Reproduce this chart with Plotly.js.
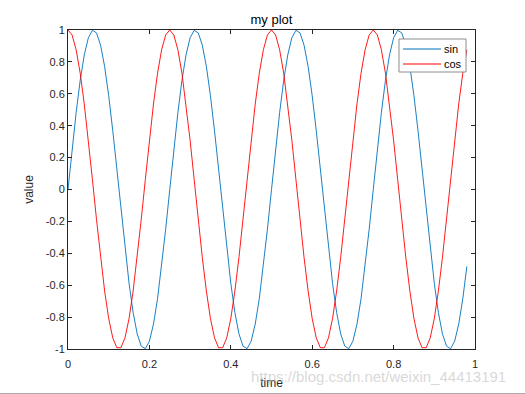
<!DOCTYPE html>
<html>
<head>
<meta charset="utf-8">
<script src="https://cdn.plot.ly/plotly-3.0.1.min.js"></script>
<style>html,body{margin:0;padding:0;background:#fff;}#chart{width:525px;height:394px;}</style>
</head>
<body>
<div id="chart"></div>
<script>
var time = [0,0.01,0.02,0.03,0.04,0.05,0.06,0.07,0.08,0.09,0.10,0.11,0.12,0.13,0.14,0.15,0.16,0.17,0.18,0.19,0.20,0.21,0.22,0.23,0.24,
0.25,0.26,0.27,0.28,0.29,0.30,0.31,0.32,0.33,0.34,0.35,0.36,0.37,0.38,0.39,0.40,0.41,0.42,0.43,0.44,0.45,0.46,0.47,0.48,0.49,
0.50,0.51,0.52,0.53,0.54,0.55,0.56,0.57,0.58,0.59,0.60,0.61,0.62,0.63,0.64,0.65,0.66,0.67,0.68,0.69,0.70,0.71,0.72,0.73,0.74,
0.75,0.76,0.77,0.78,0.79,0.80,0.81,0.82,0.83,0.84,0.85,0.86,0.87,0.88,0.89,0.90,0.91,0.92,0.93,0.94,0.95,0.96,0.97,0.98];

var sinValues = [0,0.249,0.482,0.685,0.844,0.951,0.998,0.982,0.905,0.771,0.588,0.368,0.125,-0.125,-0.368,-0.588,-0.771,-0.905,-0.982,-0.998,-0.951,-0.844,-0.685,-0.482,-0.249,
0,0.249,0.482,0.685,0.844,0.951,0.998,0.982,0.905,0.771,0.588,0.368,0.125,-0.125,-0.368,-0.588,-0.771,-0.905,-0.982,-0.998,-0.951,-0.844,-0.685,-0.482,-0.249,
0,0.249,0.482,0.685,0.844,0.951,0.998,0.982,0.905,0.771,0.588,0.368,0.125,-0.125,-0.368,-0.588,-0.771,-0.905,-0.982,-0.998,-0.951,-0.844,-0.685,-0.482,-0.249,
0,0.249,0.482,0.685,0.844,0.951,0.998,0.982,0.905,0.771,0.588,0.368,0.125,-0.125,-0.368,-0.588,-0.771,-0.905,-0.982,-0.998,-0.951,-0.844,-0.685,-0.482];

var cosValues = [1,0.969,0.876,0.729,0.536,0.309,0.063,-0.187,-0.426,-0.637,-0.809,-0.930,-0.992,-0.992,-0.930,-0.809,-0.637,-0.426,-0.187,0.063,0.309,0.536,0.729,0.876,0.969,
1,0.969,0.876,0.729,0.536,0.309,0.063,-0.187,-0.426,-0.637,-0.809,-0.930,-0.992,-0.992,-0.930,-0.809,-0.637,-0.426,-0.187,0.063,0.309,0.536,0.729,0.876,0.969,
1,0.969,0.876,0.729,0.536,0.309,0.063,-0.187,-0.426,-0.637,-0.809,-0.930,-0.992,-0.992,-0.930,-0.809,-0.637,-0.426,-0.187,0.063,0.309,0.536,0.729,0.876,0.969,
1,0.969,0.876,0.729,0.536,0.309,0.063,-0.187,-0.426,-0.637,-0.809,-0.930,-0.992,-0.992,-0.930,-0.809,-0.637,-0.426,-0.187,0.063,0.309,0.536,0.729,0.876];

var seriesNames = ['sin', 'cos'];
var seriesColors = ['#0072BD', '#FF0000'];
var xTickVals = [0, 0.2, 0.4, 0.6, 0.8, 1];
var xTickText = ['0', '0.2', '0.4', '0.6', '0.8', '1'];
var yTickVals = [-1, -0.8, -0.6, -0.4, -0.2, 0, 0.2, 0.4, 0.6, 0.8, 1];
var yTickText = ['-1', '-0.8', '-0.6', '-0.4', '-0.2', '0', '0.2', '0.4', '0.6', '0.8', '1'];

var axisColor = '#262626';
var fontFam = 'Liberation Sans, Arial, sans-serif';

var traces = [
  {x: time, y: sinValues, name: seriesNames[0], type: 'scatter', mode: 'lines',
   line: {color: seriesColors[0], width: 0.9}},
  {x: time, y: cosValues, name: seriesNames[1], type: 'scatter', mode: 'lines',
   line: {color: seriesColors[1], width: 0.9}}
];

var axisCommon = {
  showline: true, linecolor: axisColor, linewidth: 1, mirror: 'ticks',
  ticks: 'inside', ticklen: 4, tickcolor: axisColor, tickwidth: 1,
  showgrid: false, zeroline: false, fixedrange: true,
  tickfont: {family: fontFam, size: 11, color: axisColor}
};

// manual legend box (paper coords)
var legBox = {x0: 0.8133, x1: 0.9779, y0: 0.8683, y1: 0.9718};
var legRows = [0.9404, 0.8934];
var legLineX = [0.8231, 0.9165];
var legTextX = 0.9189;

var shapes = [
  {type: 'rect', xref: 'paper', yref: 'paper', x0: legBox.x0, x1: legBox.x1, y0: legBox.y0, y1: legBox.y1,
   fillcolor: '#ffffff', line: {color: '#8c8c8c', width: 1}, layer: 'above'},
  {type: 'line', xref: 'paper', yref: 'paper', x0: -0.2, x1: 1.2, y0: -0.1395, y1: -0.1395,
   line: {color: '#aaaaaa', width: 1}}
];
var annotations = [];
seriesNames.forEach(function (nm, i) {
  shapes.push({type: 'line', xref: 'paper', yref: 'paper', x0: legLineX[0], x1: legLineX[1],
    y0: legRows[i], y1: legRows[i], line: {color: seriesColors[i], width: 1}, layer: 'above'});
  annotations.push({text: nm, xref: 'paper', yref: 'paper', x: legTextX, y: legRows[i],
    xanchor: 'left', yanchor: 'middle', showarrow: false,
    font: {family: fontFam, size: 11, color: '#000'}});
});
annotations.push({
  text: 'https://blog.csdn.net/weixin_44413191', xref: 'paper', yref: 'paper',
  x: 1.081, y: -0.086, xanchor: 'right', yanchor: 'middle', showarrow: false,
  font: {family: fontFam, size: 15, color: 'rgba(190,190,190,0.6)'}
});

var layout = {
  width: 525, height: 394,
  margin: {l: 68, r: 50, t: 30, b: 45},
  paper_bgcolor: '#ffffff', plot_bgcolor: '#ffffff',
  font: {family: fontFam, color: axisColor},
  title: {text: 'my plot', font: {family: fontFam, size: 13, color: '#000'}, x: 0.517, xanchor: 'center', y: 0.951, yanchor: 'middle'},
  xaxis: Object.assign({}, axisCommon, {
    range: [0, 1], tickvals: xTickVals, ticktext: xTickText, ticklabelstandoff: 5,
    title: {text: 'time', font: {family: fontFam, size: 12, color: axisColor}, standoff: 9}
  }),
  yaxis: Object.assign({}, axisCommon, {
    range: [-1, 1], tickvals: yTickVals, ticktext: yTickText,
    title: {text: 'value', font: {family: fontFam, size: 12, color: axisColor}, standoff: 9}
  }),
  showlegend: false,
  shapes: shapes,
  annotations: annotations
};

Plotly.newPlot('chart', traces, layout, {displayModeBar: false, staticPlot: true});
</script>
</body>
</html>
